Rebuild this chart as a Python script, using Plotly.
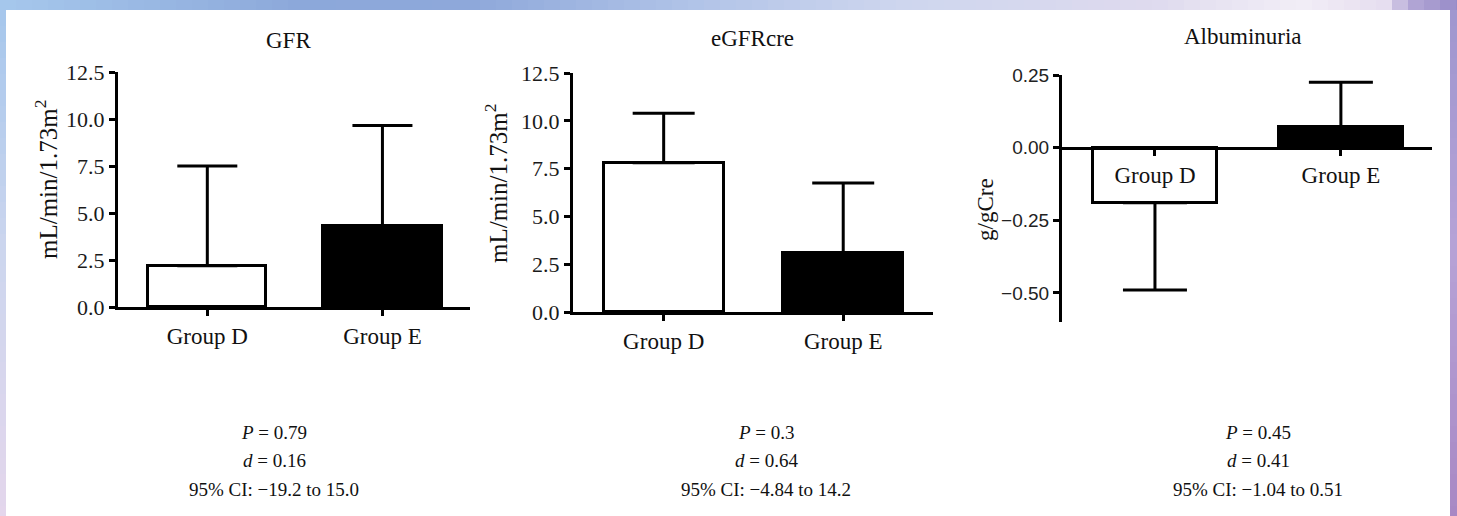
import plotly.graph_objects as go

# ---------------- data ----------------
categories = ["Group D", "Group E"]
gfr_mean = [2.2, 4.3]
gfr_err = [5.3, 5.35]
egfr_mean = [7.8, 3.1]
egfr_err = [2.6, 3.65]
alb_mean = [-0.19, 0.07]
alb_err = [0.30, 0.155]

titles = ["GFR", "eGFRcre", "Albuminuria"]
ytitles = ["mL/min/1.73m<sup>2</sup>", "mL/min/1.73m<sup>2</sup>", "g/gCre"]
p_texts = ["<i>P</i> = 0.79", "<i>P</i> = 0.3", "<i>P</i> = 0.45"]
d_texts = ["<i>d</i> = 0.16", "<i>d</i> = 0.64", "<i>d</i> = 0.41"]
ci_texts = ["95% CI: \u221219.2 to 15.0", "95% CI: \u22124.84 to 14.2", "95% CI: \u22121.04 to 0.51"]
bar_colors = ["white", "black"]

W, H = 1457, 516
SERIF = '"Liberation Serif", "Times New Roman", serif'
SANS = '"Liberation Sans", Arial, sans-serif'

fig = go.Figure()

xpos = [0, 1]

def add_panel(idx, means, errs, bar_width, cap):
    up = [e if m >= 0 else 0 for m, e in zip(means, errs)]
    down = [0 if m >= 0 else e for m, e in zip(means, errs)]
    sfx = "" if idx == 1 else str(idx)
    fig.add_trace(go.Bar(
        x=xpos, y=means, width=bar_width,
        marker=dict(color=bar_colors, line=dict(color="black", width=3)),
        error_y=dict(type="data", symmetric=False, array=up, arrayminus=down,
                     thickness=3, width=cap, color="black"),
        xaxis="x" + sfx, yaxis="y" + sfx, showlegend=False, hoverinfo="skip",
    ))

add_panel(1, gfr_mean, gfr_err, 0.675, 30)
add_panel(2, egfr_mean, egfr_err, 0.667, 31)
add_panel(3, alb_mean, alb_err, 0.667, 32)

def px_x(p):
    return p / W

def px_y(p):
    return 1 - p / H

axis_common = dict(showline=True, linecolor="black", linewidth=3, ticks="outside",
                   tickwidth=3, ticklen=6, tickcolor="black", showgrid=False, zeroline=False,
                   automargin=False)

dom_x = [[px_x(118), px_x(470)], [px_x(573), px_x(933)], [px_x(1062), px_x(1432)]]
dom_y = [[px_y(307), px_y(72)], [px_y(312), px_y(73)], [px_y(322), px_y(75)]]
xr = [[-0.51, 1.5], [-0.505, 1.5], [-0.5, 1.49]]
yr = [[0, 12.5], [0, 12.5], [-0.6, 0.25]]

yr3 = yr[2]
zero_pos = dom_y[2][0] + (0 - yr3[0]) / (yr3[1] - yr3[0]) * (dom_y[2][1] - dom_y[2][0])

layout = dict(
    width=W, height=H, margin=dict(l=0, r=0, t=0, b=0, pad=0, autoexpand=False),
    paper_bgcolor="white", plot_bgcolor="rgba(0,0,0,0)",
    bargap=0,
)

for i in range(3):
    sfx = "" if i == 0 else str(i + 1)
    xa = dict(axis_common, domain=dom_x[i], range=xr[i], tickvals=xpos, ticktext=categories,
              tickfont=dict(family=SERIF, size=23, color="#111"))
    if i == 2:
        xa.update(anchor="free", position=zero_pos)
    else:
        xa.update(anchor="y" + sfx)
    ya = dict(axis_common, domain=dom_y[i], range=yr[i], anchor="x" + sfx)
    if i < 2:
        ya.update(tickvals=[0, 2.5, 5, 7.5, 10, 12.5], tickformat=".1f",
                  tickfont=dict(family=SERIF, size=22, color="#1a1a1a"))
    else:
        ya.update(tickvals=[-0.5, -0.25, 0, 0.25], tickformat=".2f",
                  tickfont=dict(family=SANS, size=19, color="#222"))
    layout["xaxis" + sfx] = xa
    layout["yaxis" + sfx] = ya

fig.update_layout(**layout)

# titles and annotations
title_pos = [(288, 40), (752, 38), (1243, 36)]
ytitle_pos = [(46, 180), (496, 184), (985, 210)]
ytitle_size = [25, 25, 23]
stat_x = [274, 766, 1258]
stat_y = [432, 460, 489]

for i in range(3):
    fig.add_annotation(x=px_x(title_pos[i][0]), y=px_y(title_pos[i][1]), xref="paper", yref="paper",
                       text=titles[i], showarrow=False, xanchor="center", yanchor="middle",
                       font=dict(family=SERIF, size=23, color="#111"))
    fig.add_annotation(x=px_x(ytitle_pos[i][0]), y=px_y(ytitle_pos[i][1]), xref="paper", yref="paper",
                       text=ytitles[i], showarrow=False, textangle=-90, xanchor="center", yanchor="middle",
                       font=dict(family=SERIF, size=ytitle_size[i], color="#111"))
    for txt, yy in zip([p_texts[i], d_texts[i], ci_texts[i]], stat_y):
        fig.add_annotation(x=px_x(stat_x[i]), y=px_y(yy), xref="paper", yref="paper",
                           text=txt, showarrow=False, xanchor="center", yanchor="middle",
                           font=dict(family=SERIF, size=19, color="#111"))

# decorative gradient border
def interp(stops, t):
    for (a, ca), (b, cb) in zip(stops[:-1], stops[1:]):
        if a <= t <= b:
            f = (t - a) / (b - a) if b > a else 0
            return tuple(int(round(ca[k] + (cb[k] - ca[k]) * f)) for k in range(3))
    return stops[-1][1]

top_stops = [(0, (166, 200, 236)), (300, (140, 168, 218)), (470, (142, 168, 218)),
             (700, (178, 196, 232)), (900, (206, 214, 238)), (1150, (222, 218, 238)),
             (1300, (242, 238, 246)), (1385, (230, 222, 240)), (1410, (180, 168, 214)),
             (1457, (152, 140, 200))]
left_stops = [(0, (164, 198, 236)), (250, (204, 214, 238)), (516, (228, 214, 236))]
right_stops = [(0, (158, 150, 206)), (250, (182, 162, 214)), (516, (168, 136, 196))]

shapes = []
step = 16
for x0 in range(0, W, step):
    x1 = min(W, x0 + step)
    c = interp(top_stops, (x0 + x1) / 2)
    shapes.append(dict(type="rect", xref="paper", yref="paper", x0=px_x(x0), x1=px_x(x1),
                       y0=px_y(10), y1=1, fillcolor="rgb(%d,%d,%d)" % c, line=dict(width=0), layer="below"))
for y0 in range(10, H, step):
    y1 = min(H, y0 + step)
    c = interp(left_stops, (y0 + y1) / 2)
    shapes.append(dict(type="rect", xref="paper", yref="paper", x0=0, x1=px_x(6),
                       y0=px_y(y1), y1=px_y(y0), fillcolor="rgb(%d,%d,%d)" % c, line=dict(width=0), layer="below"))
    c = interp(right_stops, (y0 + y1) / 2)
    shapes.append(dict(type="rect", xref="paper", yref="paper", x0=px_x(1450), x1=1,
                       y0=px_y(y1), y1=px_y(y0), fillcolor="rgb(%d,%d,%d)" % c, line=dict(width=0), layer="below"))
fig.update_layout(shapes=shapes)

fig.write_html("out.html")
